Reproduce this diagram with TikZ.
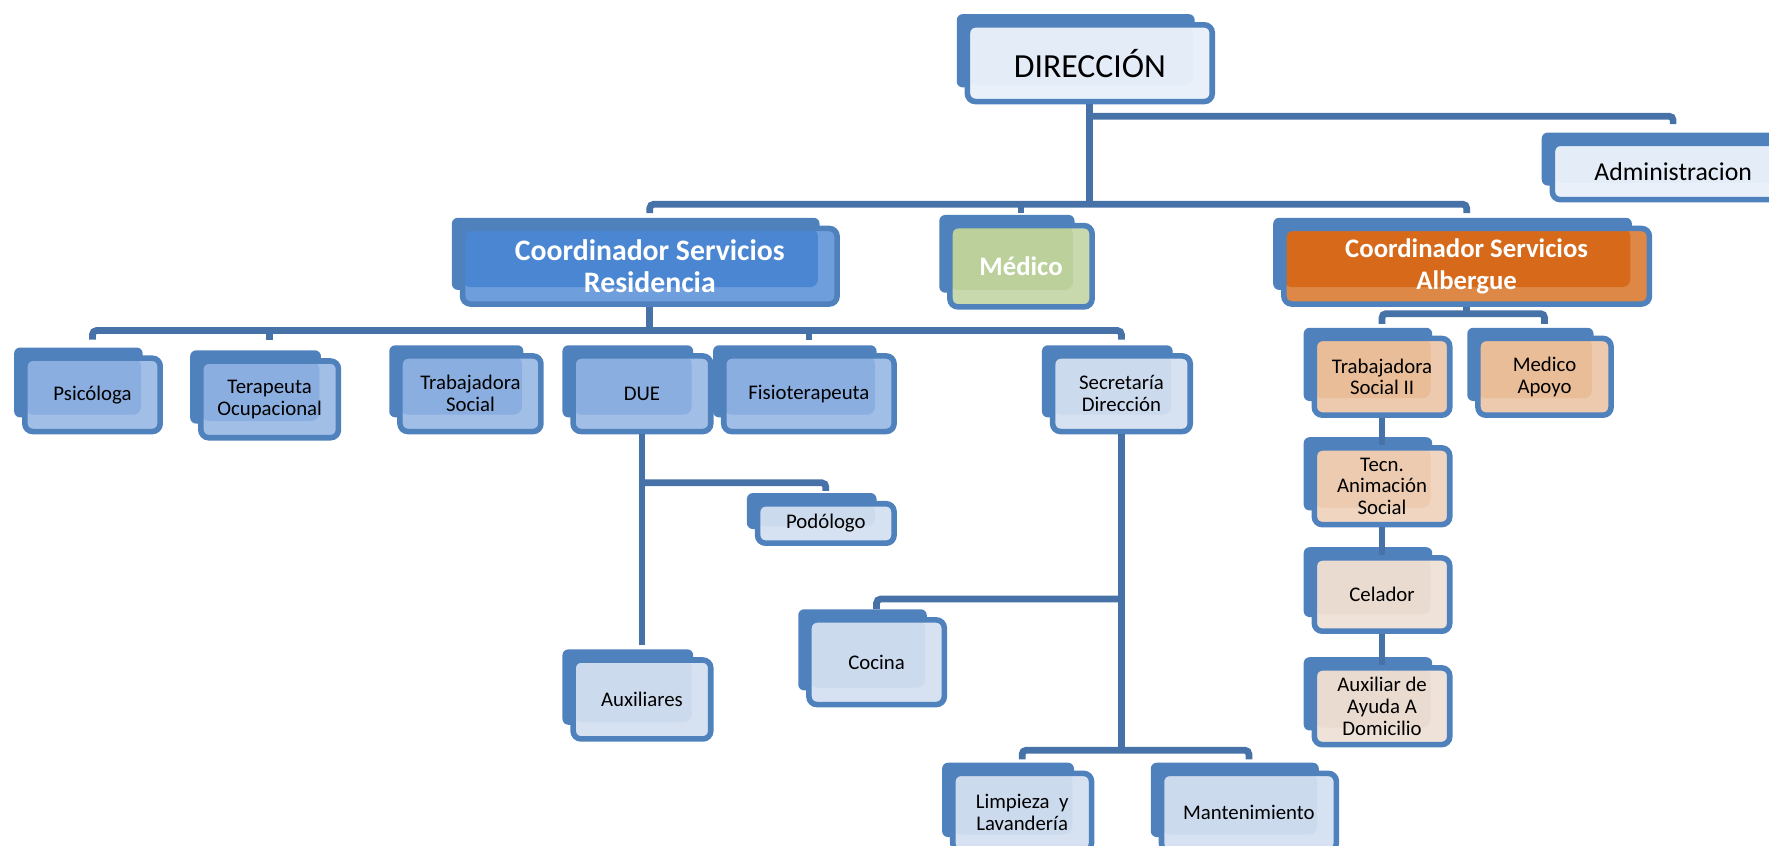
\documentclass[tikz,border=0pt]{standalone}
\usepackage{fontspec}
\setmainfont{Carlito}
\usetikzlibrary{backgrounds}
\definecolor{borde}{HTML}{4F81BD}
\definecolor{clinea}{HTML}{4672A8}
\definecolor{cdir}{HTML}{E4ECF7}
\definecolor{cres}{HTML}{4A86D2}
\definecolor{cmed}{HTML}{BBD09A}
\definecolor{calb}{HTML}{D66A1A}
\definecolor{cazul}{HTML}{8AAEE0}
\definecolor{cgris}{HTML}{CCDAED}
\definecolor{cmelo}{HTML}{E8BD98}
\definecolor{cmelo2}{HTML}{ECCBB0}
\definecolor{crosa}{HTML}{EADBD0}
\tikzset{
  caja/.style={draw=borde, line width=2.8pt, rounded corners=4pt, fill=#1!80!white,
    align=center, inner sep=1pt, font=\fontsize{10.5}{11}\selectfont,
    path picture={\fill[#1] (path picture bounding box.north west) rectangle
      ([shift={(-17,-15)}]path picture bounding box.south east);}},
  tam/.style 2 args={minimum width=#1*0.02cm, minimum height=#2*0.02cm},
  jefe/.style={text=white, font=\fontsize{13.5}{16}\selectfont\bfseries},
  conector/.style={draw=clinea, line width=3.4pt, rounded corners=2pt},
}
\begin{document}
\begin{tikzpicture}[x=0.02cm, y=-0.02cm]
    \useasboundingbox (0,0) rectangle (1568,749);
    \draw (966,56) node[caja=cdir, tam={217}{68}, font=\fontsize{17}{20}\selectfont](dir){DIRECCIÓN}
        (1483,152) node[caja=cdir, tam={214}{50}, font=\fontsize{13}{15}\selectfont](adm){Administracion}
        (576,236) node[caja=cres, tam={332}{67}, jefe, font=\fontsize{15}{16}\selectfont\bfseries](res){Coordinador Servicios\\Residencia}
        (905,236) node[caja=cmed, tam={126}{72}, jefe](med){Médico}
        (1300,236) node[caja=calb, tam={324}{67}, jefe](alb){Coordinador Servicios\\Albergue};

    \draw (82,350) node[caja=cazul, tam={120}{65}](psi){Psicóloga}
        (239,354) node[caja=cazul, tam={122}{68}](ter){Terapeuta\\Ocupacional}
        (417,349) node[caja=cazul, tam={125}{67}](tra){Trabajadora\\Social}
        (569,349) node[caja=cazul, tam={122}{67}](due){DUE}
        (717,349) node[caja=cazul, tam={151}{67}](fis){Fisioterapeuta}
        (994,349) node[caja=cgris, tam={122}{67}](sec){Secretaría\\Dirección}
        (732,464) node[caja=cgris, tam={121}{35}](pod){Podólogo}
        (569,620) node[caja=cgris, tam={122}{70}](aux){Auxiliares}
        (777,587) node[caja=cgris, tam={120}{75}](coc){Cocina}
        (906,720) node[caja=cgris, tam={123}{69}](lim){Limpieza~~y\\Lavandería}
        (1107,720) node[caja=cgris, tam={155}{69}](man){Mantenimiento};

    \draw (1225,334) node[caja=cmelo, tam={120}{68}](ts2){Trabajadora\\Social II}
        (1369,334) node[caja=cmelo, tam={118}{68}](mea){Medico\\Apoyo}
        (1225,431) node[caja=cmelo2, tam={120}{68}](tec){Tecn.\\Animación\\Social}
        (1225,527) node[caja=crosa, tam={120}{65}](cel){Celador}
        (1225,626) node[caja=crosa, tam={120}{68}](ayu){Auxiliar de\\Ayuda A\\Domicilio};

    \begin{scope}[on background layer]
        \foreach \n in {dir,adm,res,med,alb,psi,ter,tra,due,fis,sec,pod,aux,coc,lim,man,ts2,mea,tec,cel,ayu}
            \fill[borde, rounded corners=3pt] ([shift={(-7,-7)}]\n.north west) rectangle ([shift={(-18,-15)}]\n.south east);
    \end{scope}

    \draw[conector] (dir.south) -- (dir.south |- 0,181);
    \draw[conector] (dir.south |- 0,103) -| (adm.north |- 0,110);
    \draw[conector] (res.north |- 0,189) |- (alb.north |- 0,181) -- (alb.north |- 0,189);
    \draw[conector] (med.north |- 0,181) -- (med.north |- 0,189);
    \draw[conector] (res.south) -- (res.south |- 0,293);
    \draw[conector] (psi.north |- 0,301) |- (sec.north |- 0,293) -- (sec.north |- 0,301);
    \draw[conector] (ter.north |- 0,293) -- (ter.north |- 0,301);
    \draw[conector] (fis.north |- 0,293) -- (fis.north |- 0,301);
    \draw[conector] (due.south) -- (aux.north |- 0,572);
    \draw[conector] (due.south |- 0,428) -| (pod.north |- 0,435);
    \draw[conector] (sec.south) -- (sec.south |- 0,665);
    \draw[conector] (sec.south |- 0,531) -| (coc.north |- 0,540);
    \draw[conector] (lim.north |- 0,673) |- (man.north |- 0,665) -- (man.north |- 0,673);
    \draw[conector] (alb.south) -- (alb.south |- 0,278);
    \draw[conector] (ts2.north |- 0,287) |- (mea.north |- 0,278) -- (mea.north |- 0,287);
    \draw[conector] (ts2) -- (tec);
    \draw[conector] (tec) -- (cel);
    \draw[conector] (cel) -- (ayu);
\end{tikzpicture}
\end{document}
